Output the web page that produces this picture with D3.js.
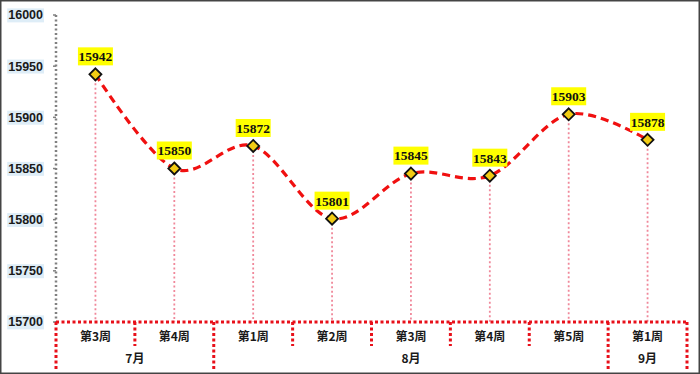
<!DOCTYPE html>
<html><head><meta charset="utf-8">
<script src="https://cdn.jsdelivr.net/npm/d3@7"></script>
<style>
html,body{margin:0;padding:0;background:#fff;}
svg{display:block;}
</style></head>
<body>
<svg id="c" width="700" height="374"></svg>
<script>
const weeks = ["第3周","第4周","第1周","第2周","第3周","第4周","第5周","第1周"];
const values = [15942,15850,15872,15801,15845,15843,15903,15878];
const months = [{name:"7月", start:0, count:2},{name:"8月", start:2, count:5},{name:"9月", start:7, count:1}];
const yTicks = [15700,15750,15800,15850,15900,15950,16000];

const W=700,H=374;
const svg=d3.select("#c");
svg.append("rect").attr("x",0.75).attr("y",0.75).attr("width",W-1.5).attr("height",H-1.5)
  .attr("fill","#fff").attr("stroke","#444").attr("stroke-width",1.5);

const x0=56,x1=687,yTop=15,yBot=322;
const x=d3.scaleBand().domain(d3.range(weeks.length)).range([x0,x1]);
const y=d3.scaleLinear().domain([15700,16000]).range([yBot,yTop]);

// y axis dotted line
svg.append("line").attr("x1",x0).attr("x2",x0).attr("y1",yTop).attr("y2",yBot)
  .attr("stroke","#808080").attr("stroke-width",2.5).attr("stroke-dasharray","2,2.5");

// y tick labels
const yl=svg.append("g");
yTicks.forEach(t=>{
  const g=yl.append("g").attr("transform",`translate(43,${y(t)})`);
  const tx=g.append("text").attr("text-anchor","end").attr("dy","0.35em")
    .attr("font-family","Liberation Sans, Arial, sans-serif").attr("font-weight","bold")
    .attr("font-size",12.5).attr("fill","#1a1a1a").text(t);
  const bb=tx.node().getBBox();
  g.insert("rect","text").attr("x",bb.x-1).attr("y",bb.y).attr("width",bb.width+2).attr("height",bb.height)
    .attr("fill","#deedf7");
  svg.append("line").attr("x1",x0-3).attr("x2",x0).attr("y1",y(t)).attr("y2",y(t))
    .attr("stroke","#808080").attr("stroke-width",1.5);
});

// drop lines
svg.append("g").selectAll("line").data(values).join("line")
  .attr("x1",(d,i)=>x(i)+x.bandwidth()/2).attr("x2",(d,i)=>x(i)+x.bandwidth()/2)
  .attr("y1",d=>y(d)).attr("y2",yBot)
  .attr("stroke","#f0889a").attr("stroke-width",1.8).attr("stroke-dasharray","2,2.5");

// category axis (red dotted)
const red="#e8101a";
svg.append("line").attr("x1",x0).attr("x2",x1+1).attr("y1",yBot).attr("y2",yBot)
  .attr("stroke",red).attr("stroke-width",3).attr("stroke-dasharray","3,2.5");
// dividers
const monthBounds=new Set();
months.forEach(m=>{monthBounds.add(m.start);monthBounds.add(m.start+m.count);});
for(let i=0;i<=weeks.length;i++){
  const xx = i<weeks.length ? x(i) : x1;
  const long=monthBounds.has(i);
  svg.append("line").attr("x1",xx).attr("x2",xx).attr("y1",yBot).attr("y2",long?370:346)
    .attr("stroke",red).attr("stroke-width",3).attr("stroke-dasharray","3,2.5");
}
// week labels
svg.append("g").selectAll("text").data(weeks).join("text")
  .attr("x",(d,i)=>x(i)+x.bandwidth()/2).attr("y",337).attr("dy","0.35em")
  .attr("text-anchor","middle").attr("font-family","Noto Sans CJK SC, sans-serif")
  .attr("font-weight","bold").attr("font-size",12).attr("fill","#1a1a1a").text(d=>d);
// month labels
svg.append("g").selectAll("text").data(months).join("text")
  .attr("x",m=>{const a=x(m.start); const e=m.start+m.count<weeks.length?x(m.start+m.count):x1; return (a+e)/2;})
  .attr("y",359).attr("dy","0.35em")
  .attr("text-anchor","middle").attr("font-family","Noto Sans CJK SC, sans-serif")
  .attr("font-weight","bold").attr("font-size",12).attr("fill","#1a1a1a").text(m=>m.name);

// line
const line=d3.line().x((d,i)=>x(i)+x.bandwidth()/2).y(d=>y(d)).curve(d3.curveCardinal.tension(0));
svg.append("path").datum(values).attr("d",line).attr("fill","none")
  .attr("stroke","#f01010").attr("stroke-width",3.2).attr("stroke-dasharray","8,5");

// markers
const ds=6;
svg.append("g").selectAll("path").data(values).join("path")
  .attr("transform",(d,i)=>`translate(${x(i)+x.bandwidth()/2},${y(d)})`)
  .attr("d",`M0,${-ds}L${ds},0L0,${ds}L${-ds},0Z`)
  .attr("fill","#f2cc14").attr("stroke","#111").attr("stroke-width",1.8);

// data labels
const lg=svg.append("g");
values.forEach((v,i)=>{
  const cx=x(i)+x.bandwidth()/2, cy=y(v)-18;
  const g=lg.append("g").attr("transform",`translate(${cx},${cy})`);
  g.append("rect").attr("x",-17.5).attr("y",-9).attr("width",35).attr("height",18).attr("fill","#ffff00");
  g.append("text").attr("text-anchor","middle").attr("dy","0.36em")
    .attr("font-family","Liberation Serif, Times New Roman, serif").attr("font-weight","bold")
    .attr("font-size",13.5).attr("fill","#111").text(v);
});
</script>
</body></html>
